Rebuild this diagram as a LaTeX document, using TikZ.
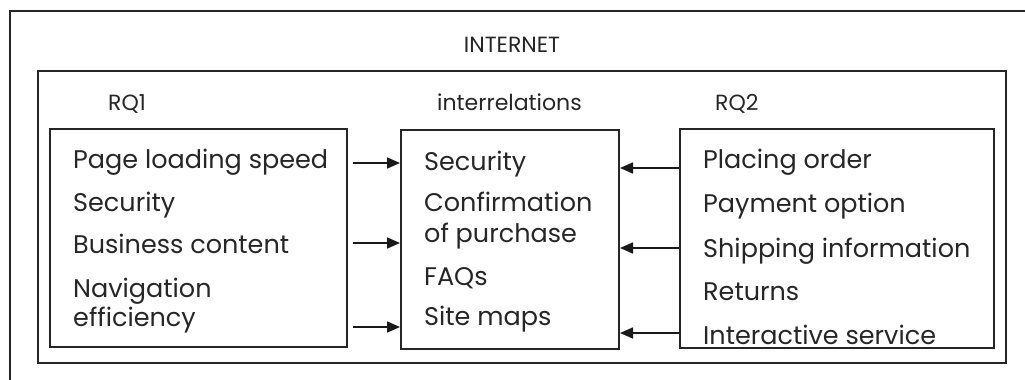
\documentclass[tikz,border=0pt]{standalone}
\usepackage{fontspec}
\setmainfont{Poppins}
\usetikzlibrary{arrows.meta}
\begin{document}
\begin{tikzpicture}[x=1pt,y=-1pt,
  frame/.style={draw=black!85,line width=2pt},
  box/.style={frame,inner sep=0pt,anchor=north west},
  item/.style={anchor=base west,inner sep=0pt,font=\fontsize{25.5}{28}\selectfont,text=black!85},
  head/.style={anchor=base west,inner sep=0pt,font=\fontsize{22}{25}\selectfont,text=black!85},
  conn/.style={draw=black!90,line width=1.6pt,-{Triangle[length=13pt,width=11pt]}}]
\useasboundingbox (0,0) rectangle (1025,380);
% outer frame (cut off at right and bottom)
\draw[frame] (10,385) -- (10,11) -- (1030,11);
\node[head,anchor=base] (inet) at (512,52) {INTERNET};
% inner frame
\node[box,minimum width=968pt,minimum height=292pt] (inner) at (37,70) {};
\node[head] (rq1) at (108,110) {RQ1};
\node[head] (irl) at (437,110) {interrelations};
\node[head] (rq2) at (715,110) {RQ2};
% boxes
\node[box,minimum width=297pt,minimum height=218pt] (lbox) at (49,128) {};
\node[box,minimum width=218pt,minimum height=219pt] (mbox) at (400,129) {};
\node[box,minimum width=314pt,minimum height=219pt] (rbox) at (679,128) {};
% left items
\node[item] (l1) at (73,168) {Page loading speed};
\node[item] (l2) at (73,211) {Security};
\node[item] (l3) at (73,253) {Business content};
\node[item] (l4) at (73,297) {Navigation};
\node[item] (l5) at (73,326) {efficiency};
% middle items
\node[item] (m1) at (424,170) {Security};
\node[item] (m2) at (424,211) {Confirmation};
\node[item] (m3) at (424,242) {of purchase};
\node[item] (m4) at (424,285) {FAQs};
\node[item] (m5) at (424,325) {Site maps};
% right items
\node[item] (r1) at (703,168) {Placing order};
\node[item] (r2) at (703,212) {Payment option};
\node[item] (r3) at (703,257) {Shipping information};
\node[item] (r4) at (703,300) {Returns};
\node[item] (r5) at (703,344) {Interactive service};
% arrows
\draw[conn,shorten <=5pt] (lbox.east |- 0,163) -- (mbox.west |- 0,163);
\draw[conn,shorten <=5pt] (lbox.east |- 0,243) -- (mbox.west |- 0,243);
\draw[conn,shorten <=5pt] (lbox.east |- 0,327) -- (mbox.west |- 0,327);
\draw[conn] (rbox.west |- 0,168) -- (mbox.east |- 0,168);
\draw[conn] (rbox.west |- 0,248) -- (mbox.east |- 0,248);
\draw[conn] (rbox.west |- 0,333) -- (mbox.east |- 0,333);
\end{tikzpicture}
\end{document}
